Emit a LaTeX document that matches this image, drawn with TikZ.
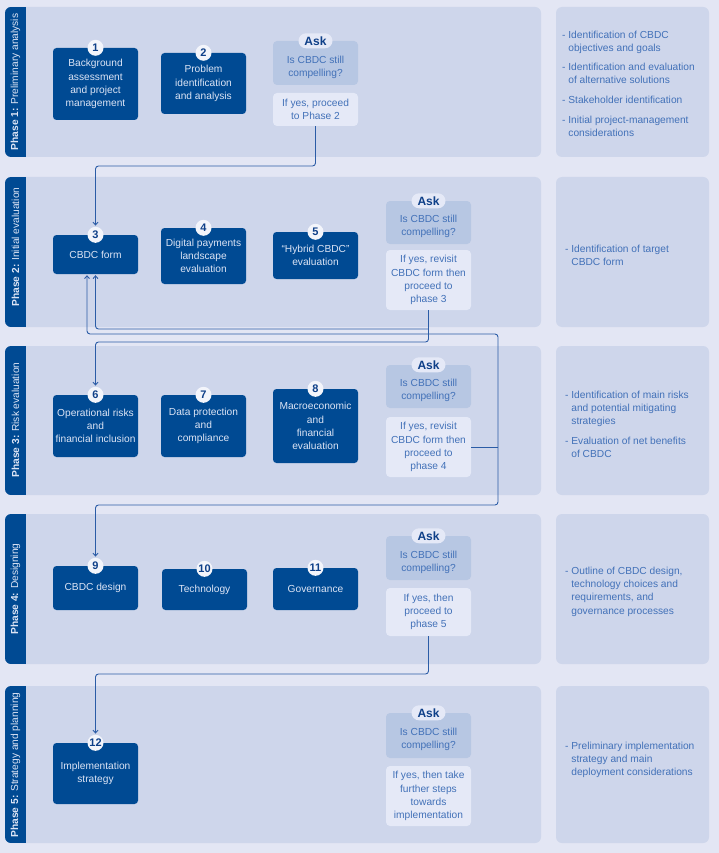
\documentclass[tikz,border=0pt]{standalone}
\usepackage{fontspec}
\setmainfont{Liberation Sans}
\usetikzlibrary{arrows.meta,calc}
\definecolor{bgc}{HTML}{E3E6F4}
\definecolor{panelc}{HTML}{CED6EB}
\definecolor{darkc}{HTML}{004A93}
\definecolor{askc}{HTML}{B7C7E3}
\definecolor{yesc}{HTML}{E5E9F7}
\definecolor{boxtxt}{HTML}{DCE4F5}
\definecolor{midtxt}{HTML}{4271B8}
\definecolor{asktxt}{HTML}{0E3F88}
\definecolor{linec}{HTML}{2B5CA6}
\newcommand\bxf{\fontsize{10.2}{13.2}\selectfont}
\begin{document}
\begin{tikzpicture}[x=1pt,y=-1pt,
  stepbox/.style={fill=darkc, rounded corners=3.5, text=boxtxt, align=center, font=\bxf, inner sep=0pt, minimum width=85pt},
  askbox/.style={fill=askc, rounded corners=4, inner sep=0pt, minimum width=85pt},
  asktext/.style={text=midtxt, align=center, font=\bxf, inner sep=0pt},
  yesbox/.style={fill=yesc, rounded corners=4, text=midtxt, align=center, font=\bxf, inner sep=0pt, minimum width=85pt},
  askpill/.style={fill=yesc, rounded corners=7.5, text=asktxt, font=\bfseries\fontsize{12}{12}\selectfont, minimum width=34pt, minimum height=15pt, inner sep=0pt},
  numc/.style={circle, fill=white!55!yesc, text=asktxt, font=\bfseries\fontsize{11}{11}\selectfont, minimum size=16pt, inner sep=0pt},
  conn/.style={draw=linec, line width=0.9pt, rounded corners=3},
  arr/.style={-{Straight Barb[length=2.8pt,width=5pt]}, shorten >=1pt},
  bandtxt/.style={rotate=90, text=boxtxt, font=\bxf, inner sep=0pt},
  bul/.style={text=midtxt, font=\bxf, inner sep=0pt, anchor=base west}
]
\useasboundingbox (0,0) rectangle (719,853);
\fill[bgc] (0,0) rectangle (719,853);
% panels
\foreach \t/\b in {7/157,177/327,346/495,514/664,686/843}{
  \fill[panelc, rounded corners=6] (5,\t) rectangle (541,\b);
  \fill[panelc, rounded corners=6] (556,\t) rectangle (709,\b);
  \begin{scope}
    \clip[rounded corners=6] (5,\t) rectangle (541,\b);
    \fill[darkc] (5,\t) rectangle (26,\b);
  \end{scope}
}
% phase labels
\node[bandtxt] (ph1) at (15.5,82) {\textbf{Phase 1:} Preliminary analysis};
\node[bandtxt] (ph2) at (15.5,247) {\textbf{Phase 2:} Initial evaluation};
\node[bandtxt] (ph3) at (15.5,420) {\textbf{Phase 3:} Risk evaluation};
\node[bandtxt] (ph4) at (15.5,589) {\textbf{Phase 4:} Designing};
\node[bandtxt] (ph5) at (15.5,765) {\textbf{Phase 5:} Strategy and planning};

% Phase 1
\node[stepbox, minimum height=72pt] (b1) at (95.5,84) {Background\\assessment\\and project\\management};
\node[stepbox, minimum height=61pt] (b2) at (203.5,83.5) {Problem\\identification\\and analysis};
\node[askbox, minimum height=44pt] (a1) at (315.5,63) {};
\node[asktext] (a1t) at ($(a1)+(0,4)$) {Is CBDC still\\compelling?};
\node[askpill] (k1) at (a1.north) {Ask};
\node[yesbox, minimum height=33pt] (y1) at (315.5,109.5) {If yes, proceed\\to Phase 2};
\node[numc] (c1) at (b1.north) {1};
\node[numc] (c2) at (b2.north) {2};

% Phase 2
\node[stepbox, minimum height=39pt] (b3) at (95.5,254.5) {CBDC form};
\node[stepbox, minimum height=56pt] (b4) at (203.5,256) {Digital payments\\landscape\\evaluation};
\node[stepbox, minimum height=47pt] (b5) at (315.5,255.5) {“Hybrid CBDC”\\evaluation};
\node[askbox, minimum height=43pt] (a2) at (428.5,222.5) {};
\node[asktext] (a2t) at ($(a2)+(0,4)$) {Is CBDC still\\compelling?};
\node[askpill] (k2) at (a2.north) {Ask};
\node[yesbox, minimum height=60pt] (y2) at (428.5,280) {If yes, revisit\\CBDC form then\\proceed to\\phase 3};
\node[numc] (c3) at (b3.north) {3};
\node[numc] (c4) at (b4.north) {4};
\node[numc] (c5) at (b5.north) {5};

% Phase 3
\node[stepbox, minimum height=62pt] (b6) at (95.5,426) {Operational risks\\and\\financial inclusion};
\node[stepbox, minimum height=62pt] (b7) at (203.5,426) {Data protection\\and\\compliance};
\node[stepbox, minimum height=74pt] (b8) at (315.5,426) {Macroeconomic\\and\\financial\\evaluation};
\node[askbox, minimum height=43pt] (a3) at (428.5,386.5) {};
\node[asktext] (a3t) at ($(a3)+(0,4)$) {Is CBDC still\\compelling?};
\node[askpill] (k3) at (a3.north) {Ask};
\node[yesbox, minimum height=60pt] (y3) at (428.5,447) {If yes, revisit\\CBDC form then\\proceed to\\phase 4};
\node[numc] (c6) at (b6.north) {6};
\node[numc] (c7) at (b7.north) {7};
\node[numc] (c8) at (b8.north) {8};

% Phase 4
\node[stepbox, minimum height=44pt] (b9) at (95.5,588) {CBDC design};
\node[stepbox, minimum height=41pt] (b10) at (204.5,589.5) {Technology};
\node[stepbox, minimum height=42pt] (b11) at (315.5,589) {Governance};
\node[askbox, minimum height=44pt] (a4) at (428.5,558) {};
\node[asktext] (a4t) at ($(a4)+(0,4)$) {Is CBDC still\\compelling?};
\node[askpill] (k4) at (a4.north) {Ask};
\node[yesbox, minimum height=48pt] (y4) at (428.5,612) {If yes, then\\proceed to\\phase 5};
\node[numc] (c9) at (b9.north) {9};
\node[numc] (c10) at (b10.north) {10};
\node[numc] (c11) at (b11.north) {11};

% Phase 5
\node[stepbox, minimum height=61pt] (b12) at (95.5,773.5) {Implementation\\strategy};
\node[askbox, minimum height=45pt] (a5) at (428.5,735.5) {};
\node[asktext] (a5t) at ($(a5)+(0,4)$) {Is CBDC still\\compelling?};
\node[askpill] (k5) at (a5.north) {Ask};
\node[yesbox, minimum height=60pt] (y5) at (428.5,796) {If yes, then take\\further steps\\towards\\implementation};
\node[numc] (c12) at (b12.north) {12};

% right panels
\node[bul] (r1a) at (562,38.5) {\begin{tabular}[t]{@{}l@{\hspace{2.8pt}}l@{}}-&Identification of CBDC\\&objectives and goals\end{tabular}};
\node[bul] (r1b) at (562,70.5) {\begin{tabular}[t]{@{}l@{\hspace{2.8pt}}l@{}}-&Identification and evaluation\\&of alternative solutions\end{tabular}};
\node[bul] (r1c) at (562,103.5) {\begin{tabular}[t]{@{}l@{\hspace{2.8pt}}l@{}}-&Stakeholder identification\end{tabular}};
\node[bul] (r1d) at (562,123.5) {\begin{tabular}[t]{@{}l@{\hspace{2.8pt}}l@{}}-&Initial project-management\\&considerations\end{tabular}};
\node[bul] (r2a) at (565,252.5) {\begin{tabular}[t]{@{}l@{\hspace{2.8pt}}l@{}}-&Identification of target\\&CBDC form\end{tabular}};
\node[bul] (r3a) at (565,398.5) {\begin{tabular}[t]{@{}l@{\hspace{2.8pt}}l@{}}-&Identification of main risks\\&and potential mitigating\\&strategies\end{tabular}};
\node[bul] (r3b) at (565,444.5) {\begin{tabular}[t]{@{}l@{\hspace{2.8pt}}l@{}}-&Evaluation of net benefits\\&of CBDC\end{tabular}};
\node[bul] (r4a) at (565,574.5) {\begin{tabular}[t]{@{}l@{\hspace{2.8pt}}l@{}}-&Outline of CBDC design,\\&technology choices and\\&requirements, and\\&governance processes\end{tabular}};
\node[bul] (r5a) at (565,749.5) {\begin{tabular}[t]{@{}l@{\hspace{2.8pt}}l@{}}-&Preliminary implementation\\&strategy and main\\&deployment considerations\end{tabular}};

% connectors
\coordinate (j1) at (95.5,166);
\coordinate (j2) at (428.5,329);
\coordinate (j3) at (95.5,342);
\coordinate (j4) at (498,447);
\coordinate (j5) at (87,334);
\coordinate (j6) at (95.5,505);
\coordinate (j7) at (95.5,674);
\coordinate (b3s) at ($(b3.south)+(-8.5,0)$);
\draw[conn,arr] (y1.south) |- (j1) -- (c3.north);
\draw[conn,arr] (y2.south) |- (j3) -- (c6.north);
\draw[conn,arr] (j2) -| (b3.south);
\draw[conn] (y3.east) -- (j4);
\draw[conn,arr] (j4) |- (j5) -- (b3s);
\draw[conn,arr] (j4) |- (j6) -- (c9.north);
\draw[conn,arr] (y4.south) |- (j7) -- (c12.north);
\end{tikzpicture}
\end{document}
